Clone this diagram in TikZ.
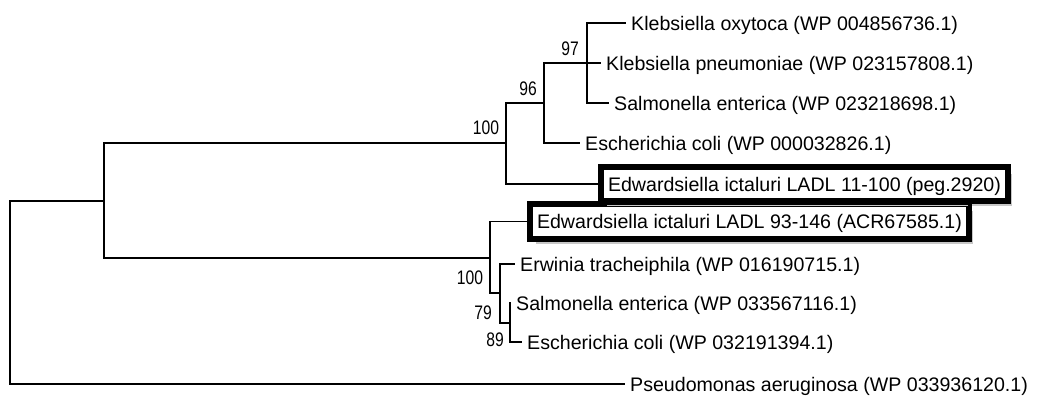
\documentclass[tikz,border=0pt]{standalone}
\usepackage{fontspec}
\setmainfont{Liberation Sans}
\newfontfamily\numfont[FakeStretch=0.8]{Liberation Sans}
\usetikzlibrary{shadows}
\begin{document}
\begin{tikzpicture}[x=1pt,y=-1pt,
  branch/.style={line width=1.6pt, black},
  taxon/.style={font=\fontsize{19.6}{22}\selectfont, text height=14pt, text depth=0pt},
  leaf/.style={taxon, anchor=west, inner xsep=5pt, inner ysep=0pt},
  boxleaf/.style={taxon, draw, line width=4pt, fill=white, anchor=west,
    inner xsep=6pt, inner ysep=0pt,
    drop shadow={shadow xshift=5pt, shadow yshift=-6pt, fill=black!22, opacity=1}},
  boxline/.style={draw, line width=4pt},
  support/.style={font=\numfont\fontsize{19.6}{22}\selectfont, inner sep=0pt,
    text height=14pt, text depth=0pt}]
\useasboundingbox (0,0) rectangle (1037,402);

% internal nodes
\coordinate (root) at (10,292);
\coordinate (A) at (104,201);
\coordinate (B) at (506,143);
\coordinate (D) at (544,103);
\coordinate (E) at (587,63);
\coordinate (C) at (490,258);
\coordinate (F) at (500,293);
\coordinate (G) at (510,323);

% leaves
\node[leaf] (ko)  at (626,23)  {Klebsiella oxytoca (WP 004856736.1)};
\node[leaf] (kp)  at (601,63)  {Klebsiella pneumoniae (WP 023157808.1)};
\node[leaf] (se1) at (609,103) {Salmonella enterica (WP 023218698.1)};
\node[leaf] (ec1) at (580,143) {Escherichia coli (WP 000032826.1)};
\node[leaf] (et)  at (515,264) {Erwinia tracheiphila (WP 016190715.1)};
\node[leaf] (se2) at (511,303) {Salmonella enterica (WP 033567116.1)};
\node[leaf] (ec2) at (522,342) {Escherichia coli (WP 032191394.1)};
\node[leaf] (pa)  at (625,384) {Pseudomonas aeruginosa (WP 033936120.1)};

% coordinates of box anchors (for branches)
\coordinate (b1w) at (600,184);
\coordinate (b2w) at (529,221.5);

% branches
\draw[branch] (root) |- (A);
\draw[branch] (root) |- (pa.west);
\draw[branch] (A) |- (B);
\draw[branch] (A) |- (C);
\draw[branch] (B) |- (D);
\draw[branch] (B) |- (b1w);
\draw[branch] (D) |- (E);
\draw[branch] (D) |- (ec1.west);
\draw[branch] (E) |- (ko.west);
\draw[branch] (E) |- (kp.west);
\draw[branch] (E) |- (se1.west);
\draw[branch] (C) |- (b2w);
\draw[branch] (C) |- (F);
\draw[branch] (F) |- (et.west);
\draw[branch] (F) |- (G);
\draw[branch] (G) |- (se2.west);
\draw[branch] (G) |- (ec2.west);

% boxed leaves
\node[boxleaf, minimum height=33pt] (ei2) at (b2w) {Edwardsiella ictaluri LADL 93-146 (ACR67585.1)};
\node[boxleaf, minimum height=32pt] (ei1) at (b1w) {Edwardsiella ictaluri LADL 11-100 (peg.2920)};
\draw[boxline] (ei2.south west) rectangle (ei2.north east);
\draw[boxline] (ei1.south west) rectangle (ei1.north east);

% support values
\node[support] (s100a) at (486,127) {100};
\node[support] (s96)   at (528,88)  {96};
\node[support] (s97)   at (570,48)  {97};
\node[support] (s100b) at (470,277) {100};
\node[support] (s79)   at (483,312) {79};
\node[support] (s89)   at (495,339) {89};
\end{tikzpicture}
\end{document}
